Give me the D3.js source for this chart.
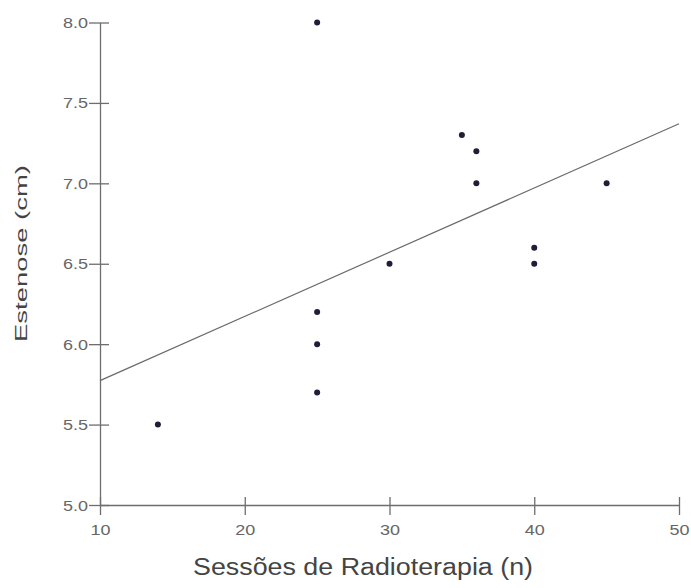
<!DOCTYPE html>
<html lang="pt">
<head>
<meta charset="utf-8">
<title>Estenose x Sessões de Radioterapia</title>
<style>
  body { margin: 0; background: #fff; }
  svg { display: block; font-family: "Liberation Sans", Arial, sans-serif; }
  .axis path, .axis line { stroke: #6e6e6e; stroke-width: 1.3; }
  .axis text { fill: #666; font-size: 14px; }
  .title { fill: #444; }
</style>
</head>
<body>
<svg id="chart"></svg>
<script src="https://d3js.org/d3.v7.min.js"></script>
<script>
// data
var sessions = [14, 25, 25, 25, 25, 30, 35, 36, 36, 40, 40, 45];
var stenosis = [5.5, 8.0, 6.2, 6.0, 5.7, 6.5, 7.3, 7.2, 7.0, 6.6, 6.5, 7.0];
var xTicks = [10, 20, 30, 40, 50];
var yTicks = [5.0, 5.5, 6.0, 6.5, 7.0, 7.5, 8.0];

var width = 691, height = 588;
var margin = { top: 22.5, right: 12, bottom: 83, left: 100 };

var svg = d3.select("#chart").attr("width", width).attr("height", height);

var x = d3.scaleLinear().domain([10, 50]).range([margin.left, width - margin.right]);
var y = d3.scaleLinear().domain([5, 8]).range([height - margin.bottom, margin.top]);

// y axis, ticks cross the line
var gy = svg.append("g")
  .attr("class", "axis")
  .attr("transform", "translate(" + margin.left + ",0)")
  .call(d3.axisLeft(y).tickValues(yTicks).tickFormat(d3.format(".1f")).tickSizeOuter(0));
gy.selectAll(".tick line").attr("x1", 9).attr("x2", -11);
gy.selectAll(".tick text").attr("x", -12).attr("dy", "0.36em").attr("textLength", 25).attr("lengthAdjust", "spacingAndGlyphs");

// x axis
var gx = svg.append("g")
  .attr("class", "axis")
  .attr("transform", "translate(0," + (height - margin.bottom) + ")")
  .call(d3.axisBottom(x).tickValues(xTicks).tickFormat(d3.format("d")).tickSizeOuter(0));
gx.selectAll(".tick line").attr("y1", -8).attr("y2", 10);
gx.selectAll(".tick text").attr("y", 20).attr("dy", "0.71em").attr("textLength", 20).attr("lengthAdjust", "spacingAndGlyphs");

// least squares fit
var pts = sessions.map(function(d, i) { return [d, stenosis[i]]; });
var mx = d3.mean(sessions), my = d3.mean(stenosis);
var sxy = d3.sum(pts, function(p) { return (p[0] - mx) * (p[1] - my); });
var sxx = d3.sum(pts, function(p) { return (p[0] - mx) * (p[0] - mx); });
var slope = sxy / sxx, icpt = my - slope * mx;

svg.append("line")
  .attr("x1", x(10)).attr("y1", y(icpt + slope * 10))
  .attr("x2", x(50)).attr("y2", y(icpt + slope * 50))
  .attr("stroke", "#6a6a6a")
  .attr("stroke-width", 1.2);

// points
svg.append("g").selectAll("circle")
  .data(pts)
  .enter().append("circle")
  .attr("cx", function(p) { return x(p[0]); })
  .attr("cy", function(p) { return y(p[1]); })
  .attr("r", 3)
  .attr("fill", "#1e1e36");

// axis titles
svg.append("text")
  .attr("class", "title")
  .attr("x", 363).attr("y", 575)
  .attr("text-anchor", "middle")
  .attr("font-size", 23)
  .attr("textLength", 340).attr("lengthAdjust", "spacingAndGlyphs")
  .text("Sessões de Radioterapia (n)");

svg.append("text")
  .attr("class", "title")
  .attr("transform", "translate(27,253.5) rotate(-90)")
  .attr("text-anchor", "middle")
  .attr("font-size", 17)
  .attr("textLength", 177).attr("lengthAdjust", "spacingAndGlyphs")
  .text("Estenose (cm)");
</script>
</body>
</html>
